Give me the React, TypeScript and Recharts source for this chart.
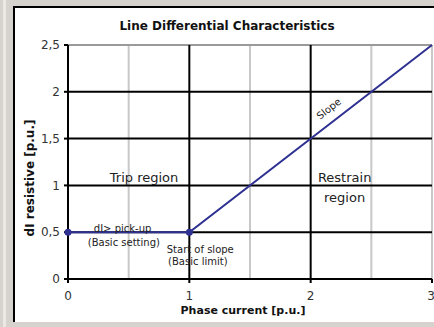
import { LineChart, Line, XAxis, YAxis, ReferenceLine, ReferenceDot } from 'recharts';

const xPoints = [0, 1, 3];
const yPoints = [0.5, 0.5, 2.5];
const xTicks = [0, 1, 2, 3];
const yTicks = [0, 0.5, 1, 1.5, 2, 2.5];
const majorX = [1, 2];
const minorX = [0.5, 1.5, 2.5, 3];
const majorY = [0.5, 1, 1.5, 2];
const minorY = [2.5];

// annotation text anchored at data coordinates
const notes = [
  { x: 0.627, y: 1.08, text: 'Trip region', size: 13, rot: 0 },
  { x: 2.28, y: 1.08, text: 'Restrain', size: 13, rot: 0 },
  { x: 2.28, y: 0.875, text: 'region', size: 13, rot: 0 },
  { x: 0.45, y: 0.535, text: 'dI> pick-up', size: 10, rot: 0 },
  { x: 0.46, y: 0.395, text: '(Basic setting)', size: 10, rot: 0 },
  { x: 1.09, y: 0.32, text: 'Start of slope', size: 10, rot: 0 },
  { x: 1.07, y: 0.19, text: '(Basic limit)', size: 10, rot: 0 },
  { x: 2.15, y: 1.82, text: 'Slope', size: 10, rot: -38 },
];

const data = xPoints.map((x, i) => ({ x, y: yPoints[i] }));
const FONT = '"DejaVu Sans", sans-serif';
const LINE = '#2e3192';

function NoteLabel(props: any) {
  const { viewBox, text, size, rot } = props;
  const cx = viewBox.x + (viewBox.width || 0) / 2;
  const cy = viewBox.y + (viewBox.height || 0) / 2;
  return (
    <text
      x={cx}
      y={cy}
      textAnchor="middle"
      dominantBaseline="central"
      fontSize={size}
      fontFamily={FONT}
      fill="#222"
      transform={rot ? `rotate(${rot} ${cx} ${cy})` : undefined}
    >
      {text}
    </text>
  );
}

export default function App() {
  const fmt = (v: number) => String(v).replace('.', ',');
  return (
    <div style={{ position: 'absolute', left: 0, top: 0, width: 434, height: 327, background: '#d6d3ce', overflow: 'hidden' }}>
      <div style={{ position: 'absolute', left: 3, top: 0, width: 3, height: 327, background: '#ece9e4' }} />
      <div
        style={{
          position: 'absolute',
          left: 13,
          top: 6,
          width: 421,
          height: 316,
          background: '#fff',
          borderLeft: '2px solid #000',
          borderTop: '2px solid #000',
          boxSizing: 'border-box',
        }}
      />
      <div
        style={{
          position: 'absolute',
          left: 27,
          width: 400,
          top: 19,
          textAlign: 'center',
          fontFamily: FONT,
          fontWeight: 'bold',
          fontSize: 12,
          color: '#111',
        }}
      >
        Line Differential Characteristics
      </div>
      <div
        style={{
          position: 'absolute',
          left: 43,
          width: 400,
          top: 304,
          textAlign: 'center',
          fontFamily: FONT,
          fontWeight: 'bold',
          fontSize: 11,
          color: '#111',
        }}
      >
        Phase current [p.u.]
      </div>
      <div
        style={{
          position: 'absolute',
          left: 30,
          top: 178,
          transform: 'translate(-50%, -50%) rotate(-90deg)',
          whiteSpace: 'nowrap',
          fontFamily: FONT,
          fontWeight: 'bold',
          fontSize: 12,
          color: '#111',
        }}
      >
        dI resistive [p.u.]
      </div>
      <div style={{ position: 'absolute', left: 0, top: 0 }}>
        <LineChart width={434} height={327} data={data} margin={{ top: 45, right: 2, left: 38, bottom: 18 }}>
          <XAxis
            dataKey="x"
            type="number"
            domain={[0, 3]}
            ticks={xTicks}
            axisLine={false}
            tickLine={{ stroke: '#000', strokeWidth: 2 }}
            tickSize={4}
            height={30}
            tick={{ fill: '#333', fontSize: 12, fontFamily: FONT, dy: 6 }}
          />
          <YAxis
            dataKey="y"
            type="number"
            domain={[0, 2.5]}
            ticks={yTicks}
            axisLine={false}
            tickLine={{ stroke: '#000', strokeWidth: 2 }}
            tickSize={4}
            width={30}
            tickFormatter={fmt}
            tick={{ fill: '#333', fontSize: 12, fontFamily: FONT, dx: -2 }}
          />
          {minorX.map((v) => (
            <ReferenceLine key={'mx' + v} x={v} stroke="#c8c8c8" strokeWidth={2} />
          ))}
          {minorY.map((v) => (
            <ReferenceLine key={'my' + v} y={v} stroke="#9a9a9a" strokeWidth={2} />
          ))}
          {majorX.map((v) => (
            <ReferenceLine key={'Mx' + v} x={v} stroke="#000" strokeWidth={2} />
          ))}
          {majorY.map((v) => (
            <ReferenceLine key={'My' + v} y={v} stroke="#000" strokeWidth={2} />
          ))}
          <ReferenceLine x={0} stroke="#000" strokeWidth={2} />
          <ReferenceLine y={0} stroke="#000" strokeWidth={2} />
          <Line
            dataKey="y"
            stroke={LINE}
            strokeWidth={2}
            isAnimationActive={false}
            dot={(p: any) =>
              p.index < 2 ? <circle key={p.index} cx={p.cx} cy={p.cy} r={3.5} fill={LINE} stroke="none" /> : <g key={p.index} />
            }
            activeDot={false}
          />
          {notes.map((n, i) => (
            <ReferenceDot
              key={'n' + i}
              x={n.x}
              y={n.y}
              r={0}
              fill="none"
              stroke="none"
              label={(lp: any) => <NoteLabel viewBox={lp.viewBox} text={n.text} size={n.size} rot={n.rot} />}
            />
          ))}
        </LineChart>
      </div>
    </div>
  );
}
